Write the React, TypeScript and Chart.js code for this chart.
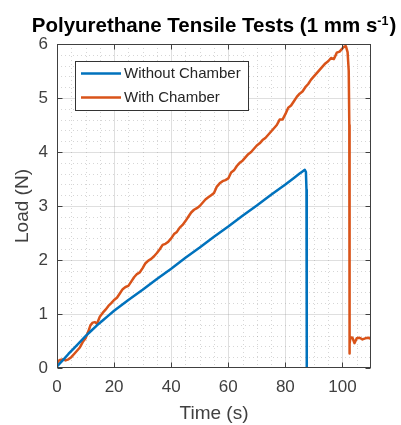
import React, { useEffect, useRef } from 'react';
import { Chart, registerables } from 'chart.js';

Chart.register(...registerables);

const TITLE_MAIN = 'Polyurethane Tensile Tests (1 mm s';
const TITLE_SUP = '-1';
const TITLE_END = ')';
const X_LABEL = 'Time (s)';
const Y_LABEL = 'Load (N)';
const X_TICKS = [0, 20, 40, 60, 80, 100];
const Y_TICKS = [0, 1, 2, 3, 4, 5, 6];
const X_MINOR = [5, 10, 15, 25, 30, 35, 45, 50, 55, 65, 70, 75, 85, 90, 95, 105, 110];
const Y_MINOR = [0.2, 0.4, 0.6, 0.8, 1.2, 1.4, 1.6, 1.8, 2.2, 2.4, 2.6, 2.8, 3.2, 3.4, 3.6, 3.8, 4.2, 4.4, 4.6, 4.8, 5.2, 5.4, 5.6, 5.8];
const X_MIN = 0;
const X_MAX = 110;
const Y_MIN = 0;
const Y_MAX = 6;

const SERIES_LABELS = ['Without Chamber', 'With Chamber'];

const TIME_WITHOUT = [0, 2, 4, 6, 8, 10, 12, 14, 16, 18, 20, 25, 30, 35, 40, 45, 50, 55, 60, 65, 70, 75, 80, 83, 85, 86, 86.8, 87.2, 87.4, 87.5, 87.5];
const LOAD_WITHOUT = [0.03, 0.14, 0.26, 0.37, 0.48, 0.59, 0.69, 0.79, 0.88, 0.97, 1.06, 1.26, 1.45, 1.65, 1.84, 2.04, 2.23, 2.43, 2.62, 2.82, 3.01, 3.21, 3.4, 3.52, 3.6, 3.64, 3.67, 3.63, 3.3, 2.0, 0];

const TIME_WITH = [0, 0.5, 1, 2, 3, 4, 5, 6, 7, 8, 9, 10, 11, 11.7, 12.5, 13.3, 14, 15, 16, 17, 18, 19, 20, 21, 22, 23, 24, 25, 26, 27, 28, 29, 30, 31, 32, 33, 34, 35, 36, 37, 38, 39, 40, 41, 42, 43, 44, 45, 46, 47, 48, 49, 50, 51, 52, 53, 54, 55, 56, 57, 58, 59, 60, 61, 62, 63, 64, 65, 66, 67, 68, 69, 70, 71, 72, 73, 74, 75, 76, 77, 78, 79, 80, 81, 82, 83, 84, 85, 86, 87, 88, 89, 90, 91, 92, 93, 94, 95, 96, 97, 97.5, 98, 99, 100, 100.6, 101.2, 101.8, 102.2, 102.4, 102.4, 102.6, 102.8, 103.5, 104.2, 105, 106, 107, 108, 109, 110];
const LOAD_WITH = [0.08, 0.13, 0.15, 0.16, 0.14, 0.16, 0.2, 0.26, 0.32, 0.38, 0.48, 0.55, 0.68, 0.79, 0.84, 0.85, 0.82, 0.95, 1.02, 1.08, 1.15, 1.2, 1.26, 1.3, 1.38, 1.46, 1.5, 1.52, 1.6, 1.68, 1.74, 1.77, 1.85, 1.94, 1.99, 2.02, 2.07, 2.13, 2.2, 2.28, 2.3, 2.34, 2.4, 2.48, 2.52, 2.6, 2.65, 2.72, 2.8, 2.88, 2.93, 2.96, 3.0, 3.06, 3.12, 3.16, 3.2, 3.24, 3.36, 3.42, 3.46, 3.48, 3.51, 3.62, 3.66, 3.74, 3.8, 3.84, 3.9, 3.96, 4.0, 4.06, 4.12, 4.16, 4.22, 4.26, 4.32, 4.38, 4.44, 4.5, 4.6, 4.6, 4.7, 4.82, 4.86, 4.94, 5.02, 5.08, 5.12, 5.2, 5.26, 5.34, 5.4, 5.46, 5.52, 5.58, 5.64, 5.68, 5.74, 5.72, 5.78, 5.84, 5.86, 5.92, 5.95, 5.96, 5.85, 5.5, 4.5, 0.27, 0.45, 0.57, 0.56, 0.46, 0.55, 0.56, 0.53, 0.55, 0.56, 0.54];

const COLORS = ['#0072BD', '#D95319'];
const FONT = '"Liberation Sans", Arial, Helvetica, sans-serif';
const TEXT_COLOR = '#404040';

function zip(xs: number[], ys: number[]) {
  const n = Math.min(xs.length, ys.length);
  const out: { x: number; y: number }[] = [];
  for (let i = 0; i < n; i++) out.push({ x: xs[i], y: ys[i] });
  return out;
}

const gridPlugin = {
  id: 'matlabGrid',
  beforeDatasetsDraw(chart: any) {
    const { ctx, chartArea: a, scales } = chart;
    const xs = scales.x;
    const ys = scales.y;
    ctx.save();
    ctx.fillStyle = '#ffffff';
    ctx.fillRect(a.left, a.top, a.right - a.left, a.bottom - a.top);
    // minor dotted grid
    ctx.strokeStyle = 'rgba(120,120,120,0.3)';
    ctx.lineWidth = 1;
    ctx.setLineDash([1, 3]);
    X_MINOR.forEach((v) => {
      const px = Math.round(xs.getPixelForValue(v)) + 0.5;
      if (px <= a.left + 1 || px >= a.right - 1) return;
      ctx.beginPath();
      ctx.moveTo(px, a.top);
      ctx.lineTo(px, a.bottom);
      ctx.stroke();
    });
    Y_MINOR.forEach((v) => {
      const py = Math.round(ys.getPixelForValue(v)) + 0.5;
      ctx.beginPath();
      ctx.moveTo(a.left, py);
      ctx.lineTo(a.right, py);
      ctx.stroke();
    });
    // major grid
    ctx.setLineDash([]);
    ctx.strokeStyle = 'rgba(150,150,150,0.3)';
    X_TICKS.forEach((v) => {
      const px = Math.round(xs.getPixelForValue(v)) + 0.5;
      if (px <= a.left + 1 || px >= a.right - 1) return;
      ctx.beginPath();
      ctx.moveTo(px, a.top);
      ctx.lineTo(px, a.bottom);
      ctx.stroke();
    });
    Y_TICKS.forEach((v) => {
      const py = Math.round(ys.getPixelForValue(v)) + 0.5;
      if (py <= a.top + 1 || py >= a.bottom - 1) return;
      ctx.beginPath();
      ctx.moveTo(a.left, py);
      ctx.lineTo(a.right, py);
      ctx.stroke();
    });
    ctx.restore();
  },
  afterDatasetsDraw(chart: any) {
    const { ctx, chartArea: a, scales } = chart;
    const xs = scales.x;
    const ys = scales.y;
    ctx.save();
    ctx.strokeStyle = '#404040';
    ctx.lineWidth = 1;
    ctx.setLineDash([]);
    const L = Math.round(a.left) + 0.5;
    const R = Math.round(a.right) - 0.5;
    const T = Math.round(a.top) + 0.5;
    const B = Math.round(a.bottom) - 0.5;
    ctx.strokeRect(L, T, R - L, B - T);
    const tl = 5;
    X_TICKS.forEach((v) => {
      const px = Math.round(xs.getPixelForValue(v)) + 0.5;
      ctx.beginPath();
      ctx.moveTo(px, B);
      ctx.lineTo(px, B - tl);
      ctx.moveTo(px, T);
      ctx.lineTo(px, T + tl);
      ctx.stroke();
    });
    Y_TICKS.forEach((v) => {
      const py = Math.round(ys.getPixelForValue(v)) + 0.5;
      ctx.beginPath();
      ctx.moveTo(L, py);
      ctx.lineTo(L + tl, py);
      ctx.moveTo(R, py);
      ctx.lineTo(R - tl, py);
      ctx.stroke();
    });

    // legend box
    const ds = chart.data.datasets;
    ctx.font = `15px ${FONT}`;
    const boxL = 75.5;
    const boxT = 61.5;
    const lineX0 = 81;
    const lineX1 = 121;
    const textX = 124;
    const rowH = 24;
    const firstRow = 73.5;
    let maxW = 0;
    ds.forEach((d: any) => { maxW = Math.max(maxW, ctx.measureText(d.label).width); });
    const boxW = Math.round(textX + maxW + 8 - boxL);
    const boxH = 49;
    ctx.fillStyle = '#ffffff';
    ctx.fillRect(boxL, boxT, boxW, boxH);
    ctx.strokeStyle = '#333333';
    ctx.strokeRect(boxL, boxT, boxW, boxH);
    ds.forEach((d: any, i: number) => {
      const y = firstRow + i * rowH;
      ctx.strokeStyle = d.borderColor;
      ctx.lineWidth = 2.5;
      ctx.beginPath();
      ctx.moveTo(lineX0, y);
      ctx.lineTo(lineX1, y);
      ctx.stroke();
      ctx.fillStyle = '#262626';
      ctx.textBaseline = 'middle';
      ctx.textAlign = 'left';
      ctx.fillText(d.label, textX, y + 0.5);
    });
    ctx.restore();
  },
  afterDraw(chart: any) {
    const { ctx, chartArea: a } = chart;
    ctx.save();
    const mainFont = `bold 20.5px ${FONT}`;
    const supFont = `bold 12.5px ${FONT}`;
    ctx.font = mainFont;
    const wMain = ctx.measureText(TITLE_MAIN).width;
    const wEnd = ctx.measureText(TITLE_END).width;
    ctx.font = supFont;
    const wSup = ctx.measureText(TITLE_SUP).width;
    const total = wMain + wSup + 1 + wEnd;
    const cx = (a.left + a.right) / 2;
    let x = cx - total / 2;
    const baseline = 32;
    ctx.fillStyle = '#000000';
    ctx.textBaseline = 'alphabetic';
    ctx.textAlign = 'left';
    ctx.font = mainFont;
    ctx.fillText(TITLE_MAIN, x, baseline);
    x += wMain;
    ctx.font = supFont;
    ctx.fillText(TITLE_SUP, x, baseline - 7.5);
    x += wSup + 1;
    ctx.font = mainFont;
    ctx.fillText(TITLE_END, x, baseline);
    ctx.restore();
  },
};

export default function App() {
  const ref = useRef<HTMLCanvasElement | null>(null);
  useEffect(() => {
    if (!ref.current) return;
    const chart = new Chart(ref.current, {
      type: 'line',
      data: {
        datasets: [
          {
            label: SERIES_LABELS[0],
            data: zip(TIME_WITHOUT, LOAD_WITHOUT),
            borderColor: COLORS[0],
            backgroundColor: COLORS[0],
            borderWidth: 2.5,
            pointRadius: 0,
            tension: 0,
            fill: false,
            borderJoinStyle: 'round',
          },
          {
            label: SERIES_LABELS[1],
            data: zip(TIME_WITH, LOAD_WITH),
            borderColor: COLORS[1],
            backgroundColor: COLORS[1],
            borderWidth: 2.5,
            pointRadius: 0,
            tension: 0,
            fill: false,
            borderJoinStyle: 'round',
          },
        ],
      },
      options: {
        animation: false,
        responsive: false,
        devicePixelRatio: 1,
        parsing: false as any,
        layout: { padding: { top: 44, right: 30, left: 0, bottom: 0 } },
        plugins: {
          legend: { display: false },
          title: { display: false },
          tooltip: { enabled: false },
        },
        scales: {
          x: {
            type: 'linear',
            min: X_MIN,
            max: X_MAX,
            afterBuildTicks: (s: any) => { s.ticks = X_TICKS.map((v) => ({ value: v })); },
            afterFit: (s: any) => { s.height = 57; },
            grid: { display: false, drawTicks: false },
            border: { display: false },
            ticks: {
              font: { family: FONT, size: 17 },
              color: TEXT_COLOR,
              padding: 9,
              maxRotation: 0,
              autoSkip: false,
            },
            title: {
              display: true,
              text: X_LABEL,
              font: { family: FONT, size: 19 },
              color: TEXT_COLOR,
              padding: { top: 0, bottom: 0 },
            },
          },
          y: {
            type: 'linear',
            min: Y_MIN,
            max: Y_MAX,
            afterBuildTicks: (s: any) => { s.ticks = Y_TICKS.map((v) => ({ value: v })); },
            afterFit: (s: any) => { s.width = 57; },
            grid: { display: false, drawTicks: false },
            border: { display: false },
            ticks: {
              font: { family: FONT, size: 17 },
              color: TEXT_COLOR,
              padding: 9,
              autoSkip: false,
            },
            title: {
              display: true,
              text: Y_LABEL,
              font: { family: FONT, size: 19 },
              color: TEXT_COLOR,
              padding: { top: 11, bottom: 0 },
            },
          },
        },
      } as any,
      plugins: [gridPlugin],
    });
    return () => chart.destroy();
  }, []);
  return (
    <div style={{ position: 'fixed', left: 0, top: 0, width: 401, height: 425, background: '#fff' }}>
      <canvas ref={ref} width={401} height={425} style={{ display: 'block', width: 401, height: 425 }} />
    </div>
  );
}
